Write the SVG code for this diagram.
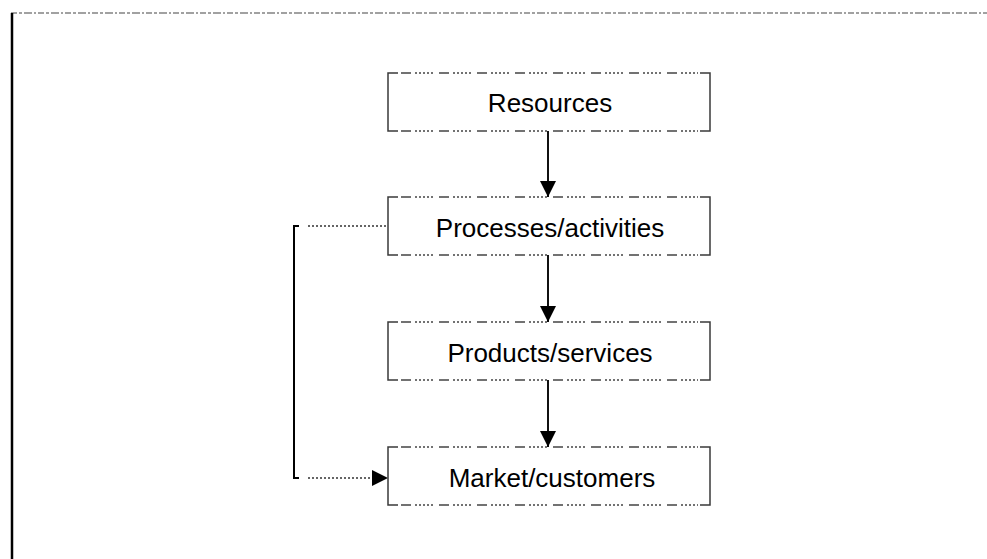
<svg xmlns="http://www.w3.org/2000/svg" width="987" height="559" viewBox="0 0 987 559">
<style>
  .side{fill:none;stroke:#3a3a3a;stroke-width:1.5}
  .edge{fill:none;stroke:#444;stroke-width:1.5;stroke-dasharray:10 4 2 2 2 2 2 2 2 2 2 6}
  .lbl{font-family:"Liberation Sans",Arial,sans-serif;font-size:26px;fill:#000;text-anchor:middle}
  .flow{fill:none;stroke:#111;stroke-width:2}
  .dot{fill:none;stroke:#333;stroke-width:1.5;stroke-dasharray:2 2}
</style>
<defs>
  <marker id="ah" viewBox="0 0 16 16" refX="16" refY="8" markerWidth="16" markerHeight="16" markerUnits="userSpaceOnUse" orient="auto">
    <path d="M0,0 L16,8 L0,16 Z" fill="#000"/>
  </marker>
</defs>
<g id="frame">
  <line x1="11" y1="13" x2="987" y2="13" stroke="#444" stroke-width="1.2" stroke-dasharray="6 2 3 2 8 2 2 2"/>
  <line x1="12" y1="13" x2="12" y2="559" stroke="#000" stroke-width="2.5"/>
</g>
<g id="connectors">
  <line class="flow" x1="548" y1="131" x2="548" y2="197" marker-end="url(#ah)"/>
  <line class="flow" x1="548" y1="255" x2="548" y2="322" marker-end="url(#ah)"/>
  <line class="flow" x1="548" y1="380" x2="548" y2="447" marker-end="url(#ah)"/>
  <path d="M299,226 H294 V478 H299" fill="none" stroke="#000" stroke-width="2"/>
  <line class="dot" x1="308" y1="226" x2="388" y2="226"/>
  <line class="dot" x1="308" y1="478" x2="388" y2="478" marker-end="url(#ah)"/>
</g>
<g id="resources">
  <path class="side" d="M398,73 H388 V131 H398 M700,73 H710 V131 H700"/>
  <path class="edge" d="M401,73 H698 M401,131 H698"/>
  <text class="lbl" x="550" y="112">Resources</text>
</g>
<g id="processes">
  <path class="side" d="M398,197 H388 V255 H398 M700,197 H710 V255 H700"/>
  <path class="edge" d="M401,197 H698 M401,255 H698"/>
  <text class="lbl" x="550" y="237">Processes/activities</text>
</g>
<g id="products">
  <path class="side" d="M398,322 H388 V380 H398 M700,322 H710 V380 H700"/>
  <path class="edge" d="M401,322 H698 M401,380 H698"/>
  <text class="lbl" x="550" y="362">Products/services</text>
</g>
<g id="market">
  <path class="side" d="M398,447 H388 V505 H398 M700,447 H710 V505 H700"/>
  <path class="edge" d="M401,447 H698 M401,505 H698"/>
  <text class="lbl" x="552" y="487">Market/customers</text>
</g>
</svg>
